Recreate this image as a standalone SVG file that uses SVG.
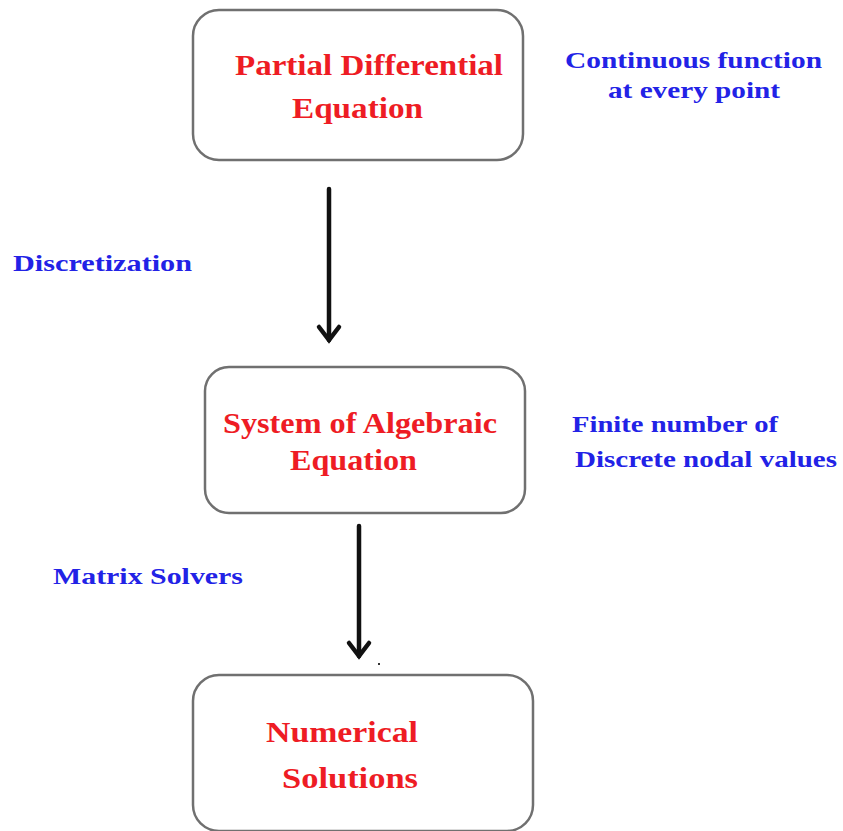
<svg xmlns="http://www.w3.org/2000/svg" width="843" height="831" viewBox="0 0 843 831">
<style>
.box{fill:#fff;stroke:#707070;stroke-width:2.5}
.red{font-family:"Liberation Serif","Times New Roman",serif;font-weight:bold;font-size:30px;fill:#ee1c24}
.blue{font-family:"Liberation Serif","Times New Roman",serif;font-weight:bold;font-size:24px;fill:#2222e6}
.arr{stroke:#111;stroke-width:4.5;fill:none;stroke-linecap:round;stroke-linejoin:miter}
</style>
<rect width="843" height="831" fill="#fff"/>
<g id="pde">
<rect class="box" x="193" y="10" width="330" height="150" rx="26"/>
<text class="red" x="235" y="75" textLength="268" lengthAdjust="spacingAndGlyphs">Partial Differential</text>
<text class="red" x="292" y="118" textLength="131" lengthAdjust="spacingAndGlyphs">Equation</text>
</g>
<g id="sae">
<rect class="box" x="205" y="367" width="320" height="146" rx="24"/>
<text class="red" x="223" y="433" textLength="274" lengthAdjust="spacingAndGlyphs">System of Algebraic</text>
<text class="red" x="290" y="470" textLength="127" lengthAdjust="spacingAndGlyphs">Equation</text>
</g>
<g id="ns">
<rect class="box" x="193" y="675" width="340" height="156" rx="26"/>
<text class="red" x="266" y="742" textLength="152" lengthAdjust="spacingAndGlyphs">Numerical</text>
<text class="red" x="282" y="788" textLength="136" lengthAdjust="spacingAndGlyphs">Solutions</text>
</g>
<g id="labels">
<text class="blue" x="565" y="68" textLength="257" lengthAdjust="spacingAndGlyphs">Continuous function</text>
<text class="blue" x="608" y="98" textLength="172" lengthAdjust="spacingAndGlyphs">at every point</text>
<text class="blue" x="572" y="432" textLength="206" lengthAdjust="spacingAndGlyphs">Finite number  of</text>
<text class="blue" x="575" y="467" textLength="262" lengthAdjust="spacingAndGlyphs">Discrete nodal values</text>
<text class="blue" x="13" y="271" textLength="179" lengthAdjust="spacingAndGlyphs">Discretization</text>
<text class="blue" x="53" y="584" textLength="190" lengthAdjust="spacingAndGlyphs">Matrix  Solvers</text>
</g>
<g id="connectors">
<line class="arr" x1="329" y1="189" x2="329" y2="340"/>
<polyline class="arr" points="319,327 329,340 339,327"/>
<line class="arr" x1="359" y1="526" x2="359" y2="656"/>
<polyline class="arr" points="349,643 359,656 369,643"/>
<rect x="378" y="663" width="2" height="2" fill="#333"/>
</g>
</svg>
